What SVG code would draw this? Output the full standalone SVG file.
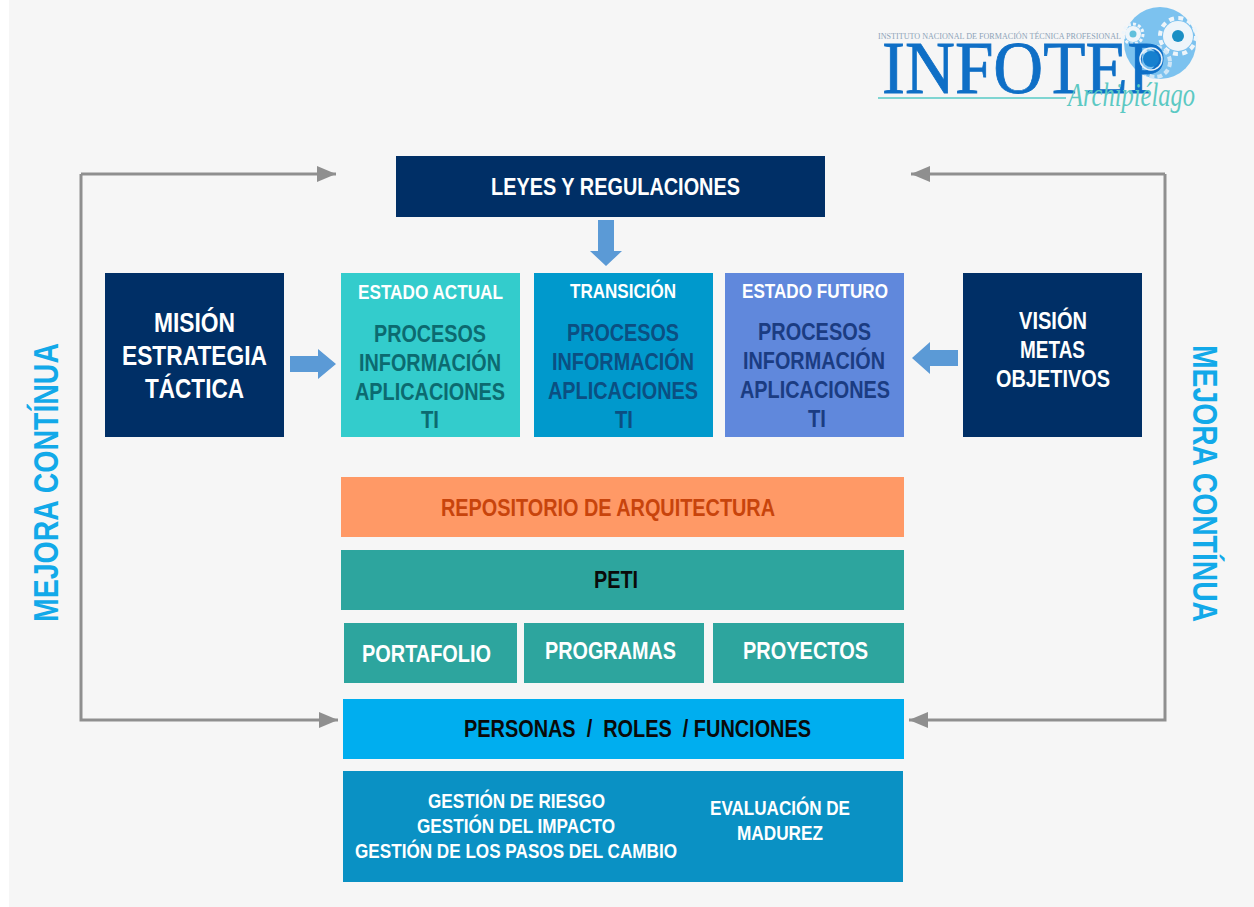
<svg xmlns="http://www.w3.org/2000/svg" width="1254" height="907" viewBox="0 0 1254 907">
<style>
text{font-family:"Liberation Sans",Arial,sans-serif;font-weight:700}
.w{fill:#fff}.s{font-size:21px}.m{font-size:24px}.l{font-size:27px}.k{fill:#0a0a0a}
.a{fill:#0c6a70}.b{fill:#0b4f82}.c{fill:#1b3c82}
.navy{fill:#002f66}
.teal{fill:#2da59e}
.side{fill:#12a9e9;font-size:35px}
.conn{fill:none;stroke:#8f8f8f;stroke-width:3}
.blk{fill:#5b9ad6}
</style>
<defs>
<marker id="ah" markerUnits="userSpaceOnUse" markerWidth="20" markerHeight="16" refX="19" refY="8" orient="auto"><path d="M0 0L19 8L0 16z" fill="#8f8f8f"/></marker>
</defs>
<rect width="1254" height="907" fill="#fff"/>
<rect x="9" width="1245" height="907" fill="#f6f6f6"/>

<g id="logo">
<circle cx="1160" cy="43" r="36" fill="#7cc2ef"/>
<circle cx="1178" cy="36" r="15" fill="#eef5fa"/>
<circle cx="1178" cy="36" r="18" fill="none" stroke="#eef5fa" stroke-width="4" stroke-dasharray="5 4.4"/>
<circle cx="1178" cy="36" r="6" fill="#1a8fc4"/>
<circle cx="1133" cy="34" r="8" fill="#eef5fa"/>
<circle cx="1133" cy="34" r="10" fill="none" stroke="#eef5fa" stroke-width="3" stroke-dasharray="3 2.2"/>
<circle cx="1133" cy="34" r="3.500" fill="#5fc0dc"/>
<circle cx="1155" cy="62" r="15" fill="none" stroke="#cfe6f6" stroke-width="4" stroke-dasharray="5 3"/>
<text x="878" y="39" font-size="7.500" textLength="243" lengthAdjust="spacingAndGlyphs" style="font-family:'Liberation Serif',serif;font-weight:400;fill:#8da3b8">INSTITUTO NACIONAL DE FORMACIÓN TÉCNICA PROFESIONAL</text>
<text x="882" y="93" font-size="73" textLength="284" lengthAdjust="spacingAndGlyphs" stroke="#0f6fc6" stroke-width="0.800" style="font-family:'Liberation Serif',serif;font-weight:400;fill:#0f6fc6">INFOTEP</text>
<circle cx="1151" cy="59" r="8" fill="#1680cf"/>
<circle cx="1151" cy="59" r="11" fill="none" stroke="#e9f3fa" stroke-width="1.500"/>
<path d="M878 98H1066" stroke="#7fd5d2" stroke-width="2" fill="none"/>
<text x="1068" y="106" font-size="33" textLength="127" lengthAdjust="spacingAndGlyphs" style="font-family:'Liberation Serif',serif;font-style:italic;font-weight:400;fill:#5cc9c3">Archipiélago</text>
</g>

<g id="connectors">
<path class="conn" marker-end="url(#ah)" d="M81 174V174H336"/>
<path class="conn" marker-end="url(#ah)" d="M81 174V720H338"/>
<path class="conn" marker-end="url(#ah)" d="M1165 174V174H911"/>
<path class="conn" marker-end="url(#ah)" d="M1165 174V720H909"/>
<path class="blk" d="M598 220H614V251H622L606 266L590 251H598z"/>
<path class="blk" d="M290 356H318V349L336 364L318 379V372H290z"/>
<path class="blk" d="M958 350H930V342L912 358L930 374V366H958z"/>
</g>

<g id="leyes"><rect class="navy" x="396" y="156" width="429" height="61"/>
<text class="w" font-size="24" x="491" y="195" textLength="249" lengthAdjust="spacingAndGlyphs">LEYES Y REGULACIONES</text></g>

<g id="mision"><rect class="navy" x="105" y="273" width="179" height="164"/>
<text class="w l" x="154" y="332" textLength="81" lengthAdjust="spacingAndGlyphs">MISIÓN</text>
<text class="w l" x="122" y="365" textLength="145" lengthAdjust="spacingAndGlyphs">ESTRATEGIA</text>
<text class="w l" x="145" y="398" textLength="99" lengthAdjust="spacingAndGlyphs">TÁCTICA</text></g>

<g id="estado-actual"><rect x="341" y="273" width="179" height="164" fill="#33cccc"/>
<text class="w s" x="358" y="299" textLength="145" lengthAdjust="spacingAndGlyphs">ESTADO ACTUAL</text>
<text class="a m" x="374" y="342" textLength="112" lengthAdjust="spacingAndGlyphs">PROCESOS</text>
<text class="a m" x="359" y="371" textLength="142" lengthAdjust="spacingAndGlyphs">INFORMACIÓN</text>
<text class="a m" x="355" y="400" textLength="150" lengthAdjust="spacingAndGlyphs">APLICACIONES</text>
<text class="a m" x="421" y="428" textLength="18" lengthAdjust="spacingAndGlyphs">TI</text></g>

<g id="transicion"><rect x="534" y="273" width="179" height="164" fill="#0099cc"/>
<text class="w s" x="570" y="298" textLength="106" lengthAdjust="spacingAndGlyphs">TRANSICIÓN</text>
<text class="b m" x="567" y="341" textLength="112" lengthAdjust="spacingAndGlyphs">PROCESOS</text>
<text class="b m" x="552" y="370" textLength="142" lengthAdjust="spacingAndGlyphs">INFORMACIÓN</text>
<text class="b m" x="548" y="399" textLength="150" lengthAdjust="spacingAndGlyphs">APLICACIONES</text>
<text class="b m" x="615" y="428" textLength="18" lengthAdjust="spacingAndGlyphs">TI</text></g>

<g id="estado-futuro"><rect x="725" y="273" width="179" height="164" fill="#6088dc"/>
<text class="w s" x="742" y="298" textLength="146" lengthAdjust="spacingAndGlyphs">ESTADO FUTURO</text>
<text class="c m" x="758" y="340" textLength="113" lengthAdjust="spacingAndGlyphs">PROCESOS</text>
<text class="c m" x="743" y="369" textLength="142" lengthAdjust="spacingAndGlyphs">INFORMACIÓN</text>
<text class="c m" x="740" y="398" textLength="150" lengthAdjust="spacingAndGlyphs">APLICACIONES</text>
<text class="c m" x="808" y="427" textLength="18" lengthAdjust="spacingAndGlyphs">TI</text></g>

<g id="vision"><rect class="navy" x="963" y="273" width="179" height="164"/>
<text class="w m" x="1019" y="329" textLength="68" lengthAdjust="spacingAndGlyphs">VISIÓN</text>
<text class="w m" x="1020" y="358" textLength="65" lengthAdjust="spacingAndGlyphs">METAS</text>
<text class="w m" x="996" y="387" textLength="114" lengthAdjust="spacingAndGlyphs">OBJETIVOS</text></g>

<g id="repositorio"><rect x="341" y="477" width="563" height="60" fill="#ff9966"/>
<text class="m" fill="#c8440c" x="441" y="516" textLength="334" lengthAdjust="spacingAndGlyphs">REPOSITORIO DE ARQUITECTURA</text></g>

<g id="peti"><rect class="teal" x="341" y="550" width="563" height="60"/>
<text class="k" font-size="23" x="594" y="588" textLength="44" lengthAdjust="spacingAndGlyphs">PETI</text></g>

<g id="portafolio"><rect class="teal" x="344" y="623" width="173" height="60"/>
<text class="w m" x="362" y="662" textLength="129" lengthAdjust="spacingAndGlyphs">PORTAFOLIO</text></g>
<g id="programas"><rect class="teal" x="524" y="623" width="180" height="60"/>
<text class="w m" x="545" y="659" textLength="131" lengthAdjust="spacingAndGlyphs">PROGRAMAS</text></g>
<g id="proyectos"><rect class="teal" x="713" y="623" width="191" height="60"/>
<text class="w m" x="743" y="659" textLength="125" lengthAdjust="spacingAndGlyphs">PROYECTOS</text></g>

<g id="personas"><rect x="343" y="699" width="561" height="60" fill="#00aeef"/>
<text class="k m" x="464" y="737" textLength="347" lengthAdjust="spacingAndGlyphs" xml:space="preserve">PERSONAS  /  ROLES  / FUNCIONES</text></g>

<g id="gestion"><rect x="343" y="771" width="560" height="111" fill="#0a91c4"/>
<text class="w s" x="428" y="808" textLength="177" lengthAdjust="spacingAndGlyphs">GESTIÓN DE RIESGO</text>
<text class="w s" x="417" y="833" textLength="198" lengthAdjust="spacingAndGlyphs">GESTIÓN DEL IMPACTO</text>
<text class="w s" x="355" y="858" textLength="322" lengthAdjust="spacingAndGlyphs">GESTIÓN DE LOS PASOS DEL CAMBIO</text>
<text class="w s" x="710" y="815" textLength="140" lengthAdjust="spacingAndGlyphs">EVALUACIÓN DE</text>
<text class="w s" x="737" y="840" textLength="86" lengthAdjust="spacingAndGlyphs">MADUREZ</text></g>

<g id="mejora-izquierda"><text class="side" transform="translate(58 622) rotate(-90)" textLength="279" lengthAdjust="spacingAndGlyphs">MEJORA CONTÍNUA</text></g>
<g id="mejora-derecha"><text class="side" transform="translate(1193 345) rotate(90)" textLength="277" lengthAdjust="spacingAndGlyphs">MEJORA CONTÍNUA</text></g>
</svg>
